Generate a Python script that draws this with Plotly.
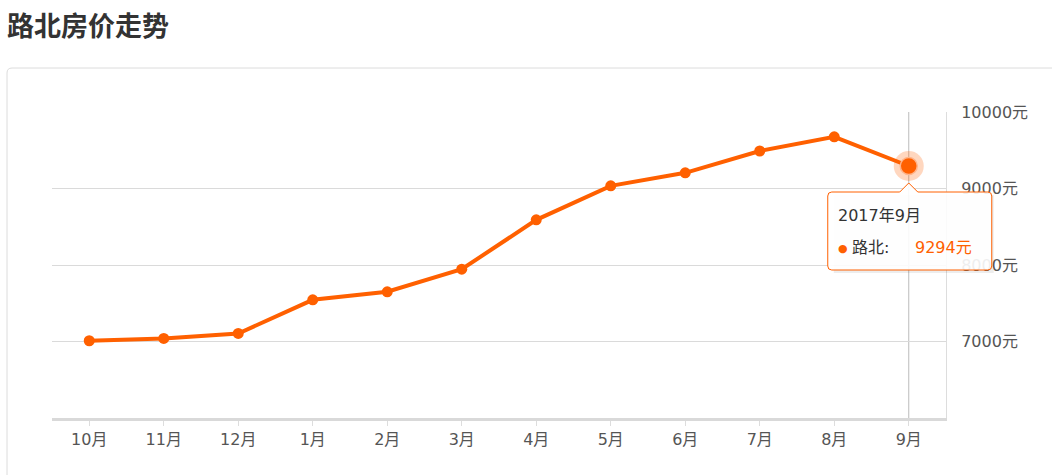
import plotly.graph_objects as go

months = ["10月", "11月", "12月", "1月", "2月", "3月", "4月", "5月", "6月", "7月", "8月", "9月"]
prices = [7010, 7040, 7105, 7545, 7650, 7945, 8590, 9035, 9205, 9490, 9675, 9294]
y_tickvals = [7000, 8000, 9000, 10000]
y_ticktext = ["7000元", "8000元", "9000元", "10000元"]
tooltip_title = "2017年9月"
series_name = "路北"

ORANGE = "#ff6000"
FONT = "DejaVu Sans, Noto Sans CJK SC, sans-serif"
TITLE_FONT = "Noto Sans CJK SC, sans-serif"
W, H = 1052, 475
ML, MR, MT, MB = 52, 106, 112, 57
Y_MIN, Y_MAX = 6000, 10000

fig = go.Figure()

# main line
fig.add_trace(go.Scatter(
    x=months, y=prices, mode="lines+markers",
    line=dict(color=ORANGE, width=4),
    marker=dict(color=ORANGE, size=11),
    hoverinfo="skip", showlegend=False,
))
# highlighted (hovered) last point
fig.add_trace(go.Scatter(
    x=[months[-1]], y=[prices[-1]], mode="markers",
    marker=dict(color="rgba(255,96,0,0.25)", size=30),
    hoverinfo="skip", showlegend=False,
))
fig.add_trace(go.Scatter(
    x=[months[-1]], y=[prices[-1]], mode="markers",
    marker=dict(color=ORANGE, size=17, line=dict(color="#ffb48a", width=1.5)),
    hoverinfo="skip", showlegend=False,
))

shapes = []
# card border
shapes.append(dict(
    type="path", xref="paper", yref="paper", xsizemode="pixel", ysizemode="pixel",
    xanchor=0, yanchor=0,
    path="M -45,-80 L -45,345 Q -45,350 -40,350 L 1020,350 L 1020,-80 Z",
    line=dict(color="#dcdcdc", width=1), fillcolor="rgba(0,0,0,0)", layer="below",
))
# axis pointer line
last_idx = len(months) - 1
shapes.append(dict(
    type="line", xref="x", yref="paper", x0=last_idx, x1=last_idx, y0=0, y1=1,
    line=dict(color="#bbbbbb", width=1), layer="below",
))

# tooltip anchored at hovered point
ax_paper = (last_idx + 0.5) / len(months)
ay_paper = (prices[-1] - Y_MIN) / (Y_MAX - Y_MIN)
box = ("M -77,-26 L -9,-26 L 0,-17 L 9,-26 L 79,-26 Q 83,-26 83,-30 "
       "L 83,-100 Q 83,-104 79,-104 L -77,-104 Q -81,-104 -81,-100 "
       "L -81,-30 Q -81,-26 -77,-26 Z")
shadow = ("M -75,-29 L 85,-29 L 85,-107 L -75,-107 Z")
shapes.append(dict(
    type="path", xref="paper", yref="paper", xsizemode="pixel", ysizemode="pixel",
    xanchor=ax_paper, yanchor=ay_paper, path=shadow,
    line=dict(width=0), fillcolor="rgba(0,0,0,0.07)", layer="above",
))
shapes.append(dict(
    type="path", xref="paper", yref="paper", xsizemode="pixel", ysizemode="pixel",
    xanchor=ax_paper, yanchor=ay_paper, path=box,
    line=dict(color=ORANGE, width=1), fillcolor="rgba(255,255,255,0.9)", layer="above",
))

annotations = [
    dict(x=months[-1], y=prices[-1], xref="x", yref="y", text=tooltip_title,
         showarrow=False, xanchor="left", yanchor="middle", xshift=-73, yshift=-49,
         font=dict(family=FONT, size=16, color="#333333")),
    dict(x=months[-1], y=prices[-1], xref="x", yref="y", text="●",
         showarrow=False, xanchor="center", yanchor="middle", xshift=-66, yshift=-82,
         font=dict(family=FONT, size=11, color=ORANGE)),
    dict(x=months[-1], y=prices[-1], xref="x", yref="y", text=f"{series_name}:",
         showarrow=False, xanchor="left", yanchor="middle", xshift=-59, yshift=-81,
         font=dict(family=FONT, size=16, color="#333333")),
    dict(x=months[-1], y=prices[-1], xref="x", yref="y", text=f"{prices[-1]}元",
         showarrow=False, xanchor="left", yanchor="middle", xshift=4, yshift=-81,
         font=dict(family=FONT, size=16, color=ORANGE)),
]

fig.update_layout(
    width=W, height=H,
    margin=dict(l=ML, r=MR, t=MT, b=MB, autoexpand=False),
    paper_bgcolor="white", plot_bgcolor="white",
    title=dict(text="<b>路北房价走势</b>", x=7 / W, xanchor="left", xref="container",
               y=1 - 27 / H, yanchor="middle", yref="container",
               font=dict(family=TITLE_FONT, size=27, color="#333333")),
    xaxis=dict(
        type="category", range=[-0.5, len(months) - 0.5],
        showgrid=False, zeroline=False,
        showline=True, linecolor="#d9d9d9", linewidth=3,
        ticks="outside", ticklen=5, tickcolor="#dddddd", tickwidth=1,
        tickfont=dict(family=FONT, size=16, color="#555555"),
        fixedrange=True,
    ),
    yaxis=dict(
        side="right", range=[Y_MIN, Y_MAX],
        tickvals=y_tickvals, ticktext=y_ticktext,
        showgrid=True, gridcolor="#dadada", gridwidth=1, zeroline=False,
        showline=True, linecolor="#dddddd", linewidth=1,
        ticks="", ticklabelstandoff=11,
        tickfont=dict(family=FONT, size=16, color="#555555"),
        fixedrange=True,
    ),
    shapes=shapes, annotations=annotations,
    hovermode=False,
)

fig.write_html(
    "out.html",
    config={"displayModeBar": False},
    post_script="document.body.style.margin='0';document.body.style.overflow='hidden';",
)
